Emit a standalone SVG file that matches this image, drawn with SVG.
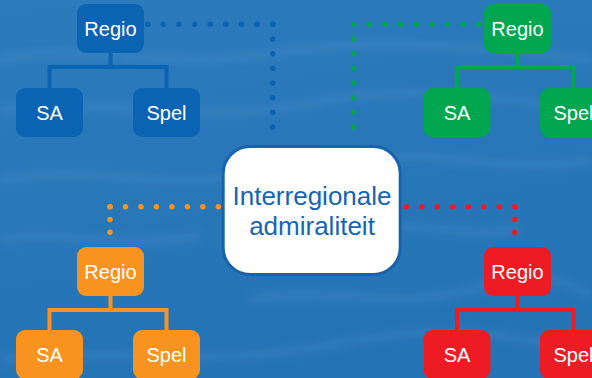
<svg xmlns="http://www.w3.org/2000/svg" width="592" height="378" viewBox="0 0 592 378">
<defs>
<linearGradient id="sea" x1="0" y1="0" x2="0.3" y2="1">
<stop offset="0" stop-color="#2b7bbd"/>
<stop offset="0.5" stop-color="#2877b9"/>
<stop offset="1" stop-color="#2473b5"/>
</linearGradient>
<filter id="blur" x="-20%" y="-50%" width="140%" height="200%"><feGaussianBlur stdDeviation="4"/></filter>
<style>
.lbl{font-family:"Liberation Sans",Arial,sans-serif;font-size:20px;fill:#ffffff;text-anchor:middle}
.ctr{font-family:"Liberation Sans",Arial,sans-serif;font-size:26px;fill:#1565b4;text-anchor:middle}
.dot{fill:none;stroke-width:5.5;stroke-linecap:round}
.tree{fill:none;stroke-width:4}
.blue{fill:#0a63b3}
.green{fill:#00a650}
.orange{fill:#f7931e}
.red{fill:#ed1c24}
</style>
</defs>
<rect width="592" height="378" fill="url(#sea)"/>
<g id="waves" fill="none" stroke="#ffffff" stroke-opacity="0.08" stroke-width="6" filter="url(#blur)">
<path d="M0 60 C80 40 160 70 260 55 S420 40 592 60"/>
<path d="M0 110 C100 95 200 125 300 105 S480 90 592 115"/>
<path d="M0 180 C90 165 170 190 240 175"/>
<path d="M380 160 C450 150 520 175 592 160"/>
<path d="M0 240 C60 230 120 250 200 235"/>
<path d="M250 300 C320 285 400 310 470 290 S560 280 592 295"/>
<path d="M0 360 C100 345 200 370 330 345 S480 335 592 350"/>
<path d="M380 230 C430 220 470 240 520 228"/>
</g>
<g id="connectors">
<line class="dot" stroke="#0a63b3" x1="147.7" y1="24.3" x2="272.7" y2="24.3" stroke-dasharray="0 15.625"/>
<line class="dot" stroke="#0a63b3" x1="272.7" y1="24.3" x2="272.7" y2="141.7" stroke-dasharray="0 14.675"/>
<line class="dot" stroke="#00a650" x1="478.7" y1="24.3" x2="353.7" y2="24.3" stroke-dasharray="0 15.625"/>
<line class="dot" stroke="#00a650" x1="353.7" y1="24.3" x2="353.7" y2="141.7" stroke-dasharray="0 14.675"/>
<line class="dot" stroke="#f7931e" x1="218.3" y1="206.7" x2="110" y2="206.7" stroke-dasharray="0 15.47"/>
<line class="dot" stroke="#f7931e" x1="110" y1="206.7" x2="110" y2="245" stroke-dasharray="0 12.77"/>
<line class="dot" stroke="#ed1c24" x1="406.3" y1="206.7" x2="514.7" y2="206.7" stroke-dasharray="0 15.486"/>
<line class="dot" stroke="#ed1c24" x1="514.7" y1="206.7" x2="514.7" y2="245" stroke-dasharray="0 12.77"/>
<path class="tree" stroke="#0a63b3" d="M110.5 53V67M49.5 88V67H166.5V88"/>
<path class="tree" stroke="#00a650" d="M517.5 53V67M457 88V67H573.5V88"/>
<path class="tree" stroke="#f7931e" d="M110.5 296V310M49.5 330V310H166.5V330"/>
<path class="tree" stroke="#ed1c24" d="M517.5 296V310M457 330V310H573.5V330"/>
</g>
<g id="center">
<rect x="223.2" y="146.5" width="177" height="128" rx="27" fill="#ffffff" stroke="#1a62ae" stroke-width="3"/>
<text class="ctr" x="312" y="205">Interregionale</text>
<text class="ctr" x="312" y="235">admiraliteit</text>
</g>
<g id="blue-regio"><rect class="blue" x="77" y="4" width="67" height="49" rx="9"/><text class="lbl" x="110.5" y="35.5">Regio</text></g>
<g id="blue-sa"><rect class="blue" x="16" y="88" width="67" height="49" rx="9"/><text class="lbl" x="49.5" y="119.5">SA</text></g>
<g id="blue-spel"><rect class="blue" x="133" y="88" width="67" height="49" rx="9"/><text class="lbl" x="166.5" y="119.5">Spel</text></g>
<g id="green-regio"><rect class="green" x="484" y="4" width="67" height="49" rx="9"/><text class="lbl" x="517.5" y="35.5">Regio</text></g>
<g id="green-sa"><rect class="green" x="423.5" y="88" width="67" height="49" rx="9"/><text class="lbl" x="457" y="119.5">SA</text></g>
<g id="green-spel"><rect class="green" x="540" y="88" width="67" height="49" rx="9"/><text class="lbl" x="573.5" y="119.5">Spel</text></g>
<g id="orange-regio"><rect class="orange" x="77" y="247" width="67" height="49" rx="9"/><text class="lbl" x="110.5" y="278.5">Regio</text></g>
<g id="orange-sa"><rect class="orange" x="16" y="330" width="67" height="49" rx="9"/><text class="lbl" x="49.5" y="361.5">SA</text></g>
<g id="orange-spel"><rect class="orange" x="133" y="330" width="67" height="49" rx="9"/><text class="lbl" x="166.5" y="361.5">Spel</text></g>
<g id="red-regio"><rect class="red" x="484" y="247" width="67" height="49" rx="9"/><text class="lbl" x="517.5" y="278.5">Regio</text></g>
<g id="red-sa"><rect class="red" x="423.5" y="330" width="67" height="49" rx="9"/><text class="lbl" x="457" y="361.5">SA</text></g>
<g id="red-spel"><rect class="red" x="540" y="330" width="67" height="49" rx="9"/><text class="lbl" x="573.5" y="361.5">Spel</text></g>
</svg>
